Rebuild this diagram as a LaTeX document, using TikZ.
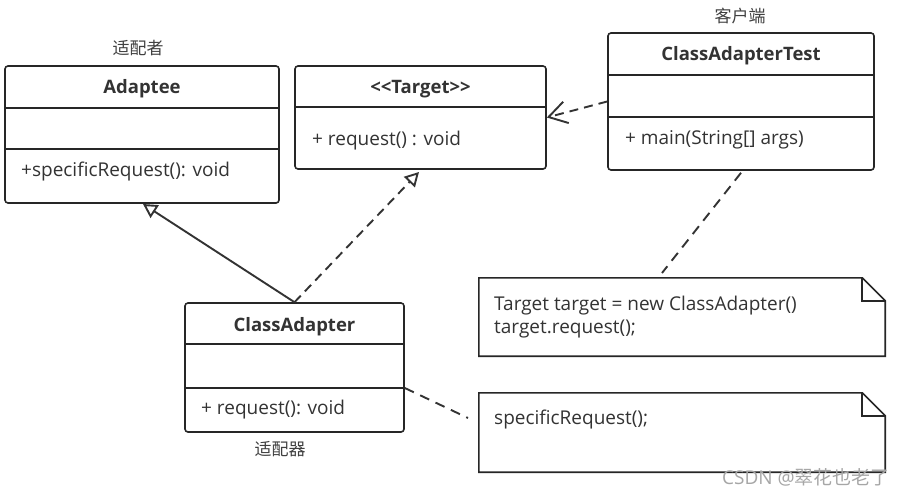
\documentclass[tikz,border=0pt]{standalone}
\usepackage{fontspec}
\setmainfont{Open Sans}
\newfontfamily\cjk{Noto Sans CJK SC}
\usetikzlibrary{arrows.meta,positioning}

\begin{document}
\begin{tikzpicture}[x=1pt,y=-1pt]
            \tikzstyle{classbox}=[rectangle, rounded corners=3pt, line width=1.6pt, draw=black!85, inner sep=0pt]
            \tikzstyle{divider}=[line width=2.4pt, draw=black!85]
            \tikzstyle{title}=[yshift=-2pt, font=\fontsize{18.5}{21}\selectfont\bfseries, text=black!80]
            \tikzstyle{member}=[anchor=west, yshift=-2pt, inner sep=0pt, font=\fontsize{19}{21}\selectfont, text=black!80]
            \tikzstyle{role}=[font=\cjk\fontsize{17}{20}\selectfont, text=black!75]
            \tikzstyle{notebox}=[rectangle, inner sep=0pt]
            \tikzstyle{note}=[line width=1.6pt, draw=black!85]
            \tikzstyle{connect}=[line width=1.9pt, draw=black!80]
            \tikzstyle{inherit}=[connect, -{Triangle[open, length=14pt, width=15pt]}]
            \tikzstyle{realize}=[connect, dash pattern=on 9pt off 6pt, -{Triangle[open, length=14pt, width=15pt]}]
            \tikzstyle{depend}=[connect, dash pattern=on 9pt off 6pt, -{Straight Barb[length=18pt, width=22pt]}]
            \tikzstyle{noteline}=[connect, dash pattern=on 10pt off 7pt]
            \useasboundingbox[fill=white] (0,0) rectangle (905,496);
            {\node[classbox, minimum width=274pt, minimum height=137pt] (adaptee) at (142,134.5){};
            \node[classbox, minimum width=251pt, minimum height=103pt] (target) at (420.5,117.5){};
            \node[classbox, minimum width=266pt, minimum height=137pt] (test) at (741,101.5){};
            \node[classbox, minimum width=219pt, minimum height=129pt] (adapter) at (294.5,367.5){};
            \node[notebox, minimum width=406pt, minimum height=78pt] (note1) at (682,317){};
            \node[notebox, minimum width=406pt, minimum height=79pt] (note2) at (682,432.5){};}
            % class sections
            \draw[divider] (adaptee.west |- 0,108) -- (adaptee.east |- 0,108);
            \draw[divider] (adaptee.west |- 0,149) -- (adaptee.east |- 0,149);
            \draw[divider] (target.west |- 0,107) -- (target.east |- 0,107);
            \draw[divider] (test.west |- 0,75) -- (test.east |- 0,75);
            \draw[divider] (test.west |- 0,117) -- (test.east |- 0,117);
            \draw[divider] (adapter.west |- 0,344) -- (adapter.east |- 0,344);
            \draw[divider] (adapter.west |- 0,388) -- coordinate[pos=1] (adapterop) (adapter.east |- 0,388);
            % notes
            \draw[note] (note1.north west) -- ([xshift=-23pt]note1.north east) -- ([yshift=-23pt]note1.north east) -- (note1.south east) -- (note1.south west) -- cycle;
            \draw[note] ([xshift=-23pt]note1.north east) |- ([yshift=-23pt]note1.north east);
            \draw[note] (note2.north west) -- ([xshift=-23pt]note2.north east) -- ([yshift=-23pt]note2.north east) -- (note2.south east) -- (note2.south west) -- cycle;
            \draw[note] ([xshift=-23pt]note2.north east) |- ([yshift=-23pt]note2.north east);
            % texts
            \node[title] (adapteename) at (142,87){Adaptee};
            \node[title] (targetname) at (420.5,87){{<}{<}Target{>}{>}};
            \node[title] (testname) at (741,54){ClassAdapterTest};
            \node[title] (adaptername) at (294.5,325){ClassAdapter};
            \node[member] (adapteeop) at (21,170){+specificRequest(): void};
            \node[member] (targetop) at (312,139){+ request() : void};
            \node[member] (testop) at (625,138){+ main(String[] args)};
            \node[member] (adapterm) at (201,408){+ request(): void};
            \node[member] (code1) at (494,304){Target target = new ClassAdapter()};
            \node[member] (code2) at (494,327){target.request();};
            \node[member] (code3) at (494,418){specificRequest();};
            \node[role] (adapteerole) at (138,48){适配者};
            \node[role] (testrole) at (740,16){客户端};
            \node[role] (adapterrole) at (280,449){适配器};
            \node[font=\fontsize{19}{21}\selectfont, text=black!35] (mark) at (806,477){CSDN @\cjk 翠花也老了};
            % relations
            \coordinate (tip1) at (143,204);
            \coordinate (tip2) at (419,172);
            \coordinate (n1end) at (662,273);
            \coordinate (n2end) at (468,418);
            \path (adapter.north) edge [inherit] (tip1);
            \path (adapter.north) edge [realize] (tip2);
            \path (test.west) edge [depend] (target.east);
            \path ([yshift=-2pt]test.south) edge [noteline] (n1end);
            \path (adapterop) edge [noteline] (n2end);
        \end{tikzpicture}
\end{document}
